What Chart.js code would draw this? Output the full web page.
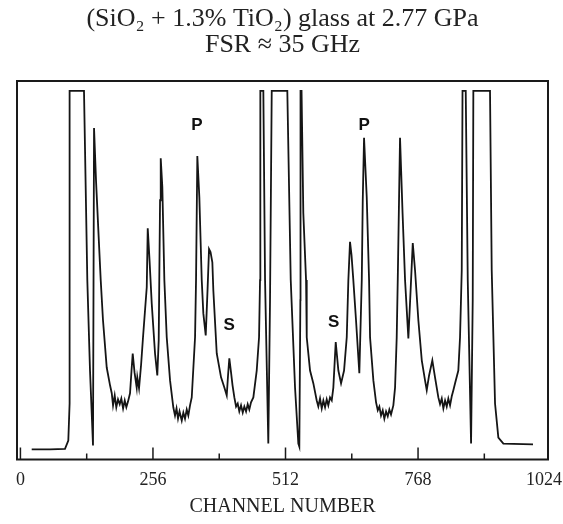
<!DOCTYPE html>
<html>
<head>
<meta charset="utf-8">
<script src="https://cdn.jsdelivr.net/npm/chart.js@4.4.0/dist/chart.umd.min.js"></script>
<style>
  html, body { margin: 0; padding: 0; background: #fff; }
</style>
</head>
<body>
<canvas id="spec" width="563" height="524"></canvas>
<script>
// Brillouin scan: channel number vs counts (arb. units, 100 = top of frame)
const channels = [
  21.8, 57.2, 86.1, 92.5, 95.0, 95.0, 122.8, 129.2, 134.4, 140.2, 142.2,
  146.0, 150.5, 155.1, 159.5, 166.7, 173.1, 176.4,
  178.9, 182.1, 185.2, 188.5, 191.8, 194.9, 198.3, 201.5, 204.6, 207.8,
  211.7, 214.6, 216.9, 220.4, 224.6, 225.8, 229.1, 233.0, 236.8,
  244.0, 245.9, 249.4, 253.6, 260.0, 264.4, 267.1, 269.7, 271.0,
  274.1, 278.0, 282.6, 289.0, 295.3,
  298.6, 301.5, 304.4, 307.3, 311.6, 314.7, 317.9, 321.2, 324.3, 327.6,
  330.9, 337.3, 339.2, 341.7, 345.6, 350.2, 353.3, 357.9, 361.4, 364.3,
  367.2, 370.7, 372.6, 379.2, 387.5, 393.9, 398.5, 401.0, 403.5, 406.8,
  409.7, 413.2,
  416.5, 419.7, 422.8, 426.1, 429.4, 432.5, 435.8, 439.0, 442.1, 445.4,
  449.9, 456.4, 460.9, 462.8, 463.4, 469.2, 472.5, 478.8, 482.1, 485.4,
  515.5, 522.1, 530.4, 536.8, 538.7, 540.7, 541.0, 543.0, 546.4, 551.7,
  553.0, 559.4, 565.8, 572.3,
  575.4, 578.7, 582.0, 585.1, 588.4, 591.6, 594.7, 598.0, 601.3,
  604.4, 609.0, 614.1, 619.3, 625.1, 630.3, 633.4, 636.6, 639.5, 643.0,
  648.2, 654.6, 659.3, 661.2, 663.7, 668.9, 673.4, 675.3, 681.7, 686.9,
  690.2, 693.3, 696.5, 699.8, 702.9, 706.2, 709.5, 712.6, 715.8, 720.3,
  723.6, 726.8, 728.8, 733.2, 738.1, 742.9, 749.3, 753.9, 757.8, 762.2,
  768.6, 775.2, 781.5, 784.8, 789.3, 795.6, 800.8, 807.2,
  810.5, 813.8, 816.9, 820.2, 823.4, 826.5, 829.8, 833.1, 836.2,
  839.4, 845.8, 849.1, 852.4, 853.9, 860.1, 864.0, 870.4, 873.6, 874.8,
  907.0, 910.3, 916.7, 923.1, 932.8, 990.1
];
const counts = [
  2.7, 2.7, 2.8, 5.0, 14.8, 97.4, 97.4, 47.4, 23.5, 3.7, 87.6,
  73.8, 60.6, 47.4, 36.8, 24.3, 19.6, 17.5,
  14.3, 16.9, 13.8, 15.9, 14.6, 16.1, 13.5, 15.6, 13.8, 15.3,
  17.5, 23.5, 28.0, 23.0, 19.0, 21.7, 18.8, 24.9, 32.3,
  45.5, 61.1, 52.6, 41.3, 28.0, 22.2, 31.5, 68.5, 79.6,
  72.0, 47.4, 32.3, 20.9, 13.8,
  11.6, 13.5, 10.8, 12.7, 10.3, 12.4, 10.8, 13.2, 11.6, 14.3,
  16.4, 32.3, 47.4, 80.2, 69.3, 47.4, 38.6, 32.8, 44.7, 55.6,
  54.8, 52.1, 44.7, 28.0, 21.7, 19.0, 16.9, 22.2, 26.7, 23.0,
  19.6, 16.4,
  14.0, 14.8, 12.7, 14.3, 12.4, 14.0, 12.7, 14.6, 13.2, 15.1,
  16.4, 23.5, 32.3, 47.4, 97.4, 97.4, 47.4, 4.2, 42.1, 97.4,
  97.4, 47.4, 19.0, 4.2, 3.4, 42.1, 97.4, 97.4, 65.1, 47.4,
  32.3, 23.5, 20.1, 15.6,
  14.0, 16.1, 13.5, 15.6, 13.8, 15.9, 14.3, 16.4, 15.6,
  19.0, 31.0, 23.5, 20.1, 23.5, 32.3, 47.4, 57.5, 54.0, 47.4,
  36.8, 22.8, 47.4, 68.5, 85.0, 69.3, 47.4, 32.3, 20.9, 15.1,
  13.0, 14.0, 11.6, 13.0, 10.8, 12.7, 11.4, 13.2, 11.9, 14.3,
  19.0, 32.3, 47.4, 85.0, 65.1, 47.4, 32.0, 45.5, 57.2, 50.0,
  36.8, 26.2, 20.9, 18.3, 22.2, 26.2, 21.7, 16.4,
  14.6, 16.1, 13.5, 15.6, 14.0, 16.1, 14.3, 16.7, 18.3,
  20.1, 23.5, 32.3, 50.0, 97.4, 97.4, 47.4, 4.2, 42.1, 97.4,
  97.4, 50.0, 14.8, 5.8, 4.2, 4.0
];
const tickLabels = [0, 256, 512, 768, 1024];
const minorTicks = [128, 384, 640, 896];
const peakLabels = ['P', 'P', 'S', 'S'];
const peakChannels = [341, 664, 403, 605];
const peakHeights = [88.4, 88.4, 35.4, 36.2];

// frame, inward ticks, tick numbers and the P / S marks
const frameAndMarks = {
  id: 'frameAndMarks',
  afterDatasetsDraw(chart) {
    const { ctx, chartArea: a, scales: { x, y } } = chart;
    ctx.save();
    ctx.strokeStyle = '#1a1a1a';
    ctx.lineWidth = 2;
    ctx.strokeRect(a.left, a.top, a.right - a.left, a.bottom - a.top);
    ctx.lineWidth = 1.5;
    tickLabels.concat(minorTicks).forEach(v => {
      const px = x.getPixelForValue(v);
      if (px <= a.left + 2 || px >= a.right - 2) return;
      const len = minorTicks.includes(v) ? 6 : 12;
      ctx.beginPath();
      ctx.moveTo(px, a.bottom);
      ctx.lineTo(px, a.bottom - len);
      ctx.stroke();
    });

    // numbers under the axis; the last one is kept inside the canvas
    ctx.font = '18px "Liberation Serif"';
    ctx.fillStyle = '#222';
    ctx.textAlign = 'center';
    ctx.textBaseline = 'middle';
    tickLabels.forEach(v => {
      const txt = String(v);
      const half = ctx.measureText(txt).width / 2;
      const px = Math.min(x.getPixelForValue(v), chart.width - 1 - half);
      ctx.fillText(txt, px, a.bottom + 21);
    });

    ctx.font = 'bold 17px "Liberation Sans"';
    ctx.fillStyle = '#111';
    peakLabels.forEach((t, i) => {
      ctx.fillText(t, x.getPixelForValue(peakChannels[i]), y.getPixelForValue(peakHeights[i]));
    });
    ctx.restore();
  }
};

const ctx = document.getElementById('spec');
new Chart(ctx, {
  type: 'line',
  data: {
    datasets: [{
      data: channels.map((c, i) => ({ x: c, y: counts[i] })),
      borderColor: '#151515',
      borderWidth: 1.8,
      pointRadius: 0,
      tension: 0,
      fill: false
    }]
  },
  options: {
    responsive: false,
    animation: false,
    devicePixelRatio: 1,
    layout: { padding: { left: 17, right: 15, top: 0, bottom: 0 } },
    plugins: {
      legend: { display: false },
      tooltip: { enabled: false },
      title: {
        display: true,
        text: ['(SiO\u2082 + 1.3% TiO\u2082) glass at 2.77 GPa', 'FSR \u2248 35 GHz'],
        color: '#222',
        font: { family: 'Liberation Serif', size: 26, weight: 'normal', lineHeight: 1.0 },
        padding: { top: 6, bottom: 23 }
      }
    },
    scales: {
      x: {
        type: 'linear',
        min: -6.6,
        max: 1019,
        grid: { display: false, drawTicks: false },
        border: { display: false },
        ticks: { display: false },
        title: {
          display: true,
          text: 'CHANNEL NUMBER',
          color: '#222',
          font: { family: 'Liberation Serif', size: 20 },
          padding: { top: 35.5, bottom: 5 }
        }
      },
      y: { display: false, min: 0, max: 100 }
    }
  },
  plugins: [frameAndMarks]
});
</script>
</body>
</html>
